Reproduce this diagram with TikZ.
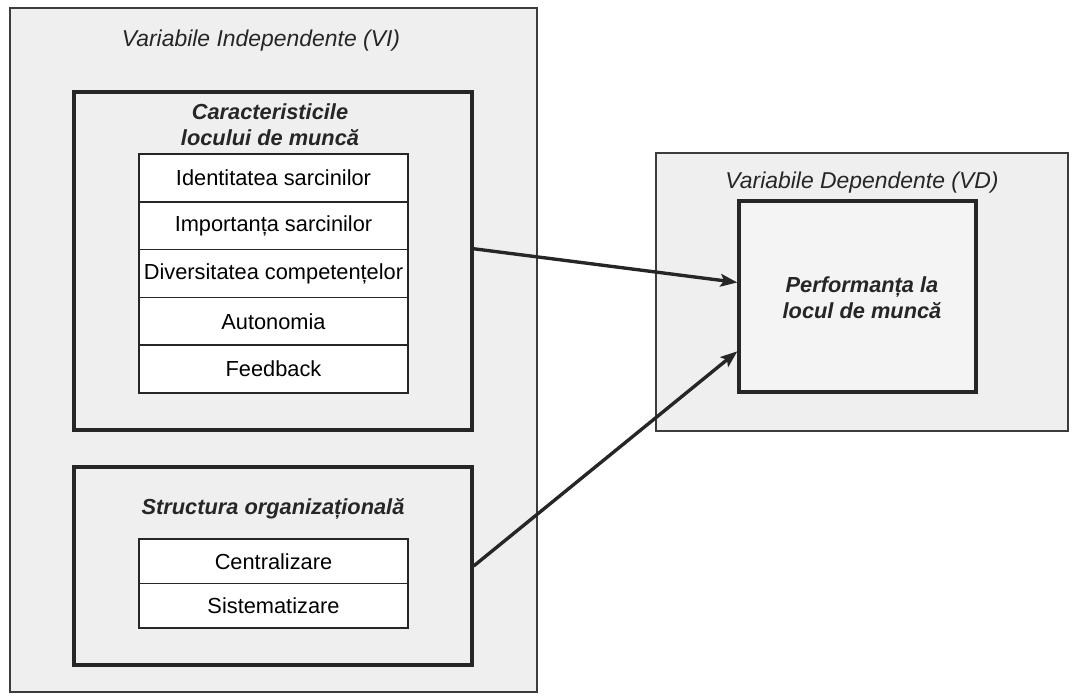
\documentclass[tikz,border=0pt]{standalone}
\usepackage{fontspec}
\setmainfont{Liberation Sans}
\usetikzlibrary{positioning,arrows.meta,calc}
\definecolor{panel}{HTML}{EFEFEF}
\definecolor{inkdark}{HTML}{262626}
\definecolor{inkthin}{HTML}{3C3C3C}

\begin{document}
\begin{tikzpicture}[x=0.025cm,y=-0.025cm,>={Stealth[length=12pt,width=9pt,inset=2.5pt]},
  outerbox/.style={draw=inkthin,line width=1pt,fill=panel,inner sep=0pt},
  groupbox/.style={draw=inkdark,line width=2.4pt,fill=panel,inner sep=0pt},
  rowbox/.style={draw=inkdark,line width=1.2pt,fill=white,inner sep=0pt,
    minimum width=269*0.025cm,font=\fontsize{15.5}{18}\selectfont},
  title/.style={font=\fontsize{16.3}{19}\selectfont\itshape,text=inkdark},
  headline/.style={font=\fontsize{15.5}{18.5}\selectfont\bfseries\itshape,align=center,text=inkdark}]
  \useasboundingbox (0,0) rectangle (1072,698);
  \def\rh{47.8}
  % independent variables
  \node[outerbox,minimum width=527*0.025cm,minimum height=684*0.025cm] (vi) at (273.5,350) {};
  \node[title] (vititle) at (261,41) {Variabile Independente (VI)};
  \node[groupbox,minimum width=398*0.025cm,minimum height=338*0.025cm] (car) at (273,261) {};
  \node[headline] (cartitle) at (270,125) {Caracteristicile\\locului de muncă};
  \foreach \t [count=\i] in {Identitatea sarcinilor,Importanța sarcinilor,Diversitatea competențelor,Autonomia,Feedback}
    \node[rowbox,minimum height=\rh*0.025cm] (row\i) at (273.5,{154+(\i-0.5)*\rh}) {\t};
  \node[groupbox,minimum width=398*0.025cm,minimum height=198*0.025cm] (str) at (273,566) {};
  \node[headline] (strtitle) at (273,509) {Structura organizațională};
  \node[rowbox,minimum height=44.5*0.025cm] (srow1) at (273.5,561.25) {Centralizare};
  \node[rowbox,minimum height=44.5*0.025cm] (srow2) at (273.5,605.75) {Sistematizare};
  % dependent variable
  \node[outerbox,minimum width=412*0.025cm,minimum height=278*0.025cm] (vd) at (862,292) {};
  \node[title] (vdtitle) at (862,183) {Variabile Dependente (VD)};
  \node[groupbox,fill=panel!70!white,minimum width=237*0.025cm,minimum height=191*0.025cm] (perf) at (857.5,296.5) {};
  \node[headline] (perftitle) at (862,298) {Performanța la\\locul de muncă};
  % effects
  \draw[->,inkdark,line width=2.4pt] (car.east |- row3.north) -- ([yshift=10pt]perf.west);
  \draw[->,inkdark,line width=2.4pt] (str.east) -- ([yshift=-39pt]perf.west);
\end{tikzpicture}
\end{document}
